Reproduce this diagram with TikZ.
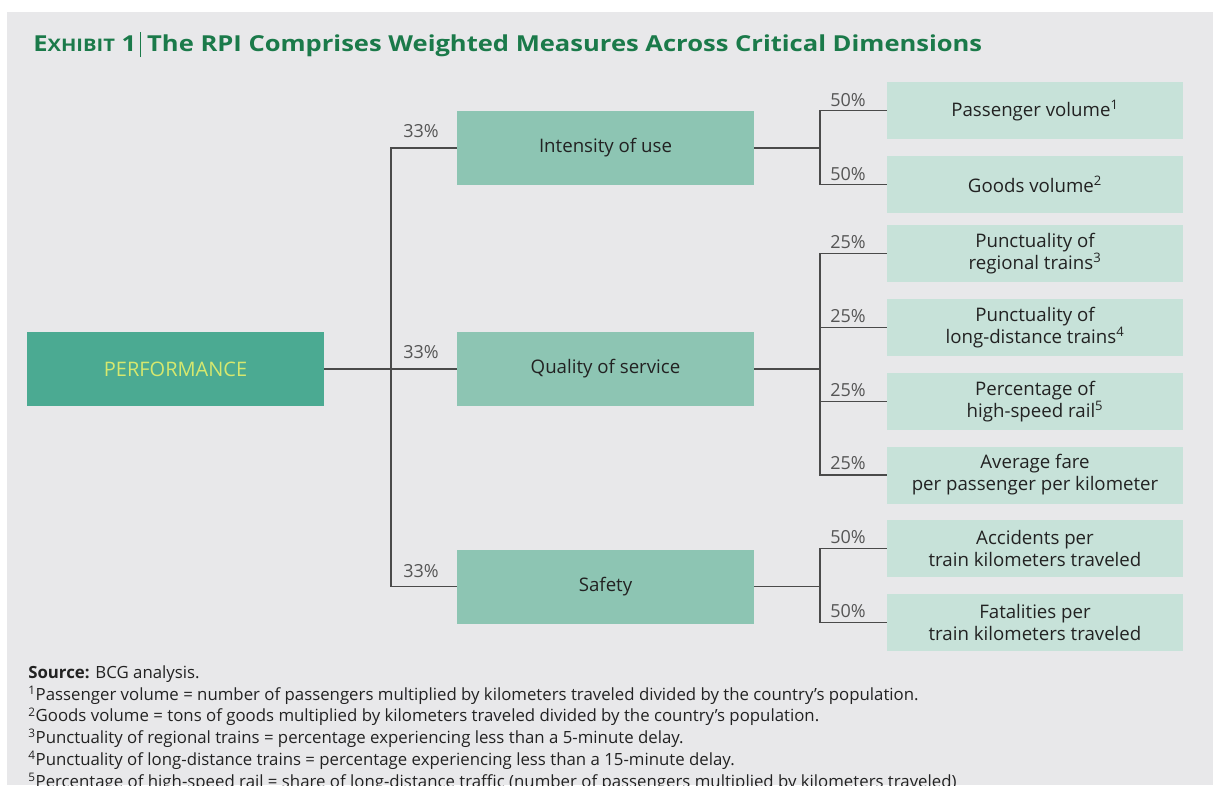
\documentclass[tikz,border=0pt]{standalone}
\usepackage{fontspec}
\setmainfont{Open Sans}
\newfontfamily\condfont[FakeStretch=0.80]{Open Sans}
\definecolor{bgc}{HTML}{E8E8EA}
\definecolor{perfc}{HTML}{4BAA92}
\definecolor{perftxt}{HTML}{D6E86E}
\definecolor{midc}{HTML}{8DC5B3}
\definecolor{leafc}{HTML}{C7E2D9}
\definecolor{txtc}{HTML}{222222}
\definecolor{linec}{HTML}{4A4A4A}
\definecolor{pctc}{HTML}{555555}
\definecolor{titlec}{HTML}{1B7A4A}
\newcommand\boxfont{\fontsize{14}{16.5}\selectfont}
\newcommand\perffont{\fontsize{15}{17}\selectfont}
\newcommand\pctfont{\fontsize{13.5}{16}\selectfont}
\newcommand\notefont{\fontsize{12.6}{16.3}\selectfont}
\begin{document}
\begin{tikzpicture}[x=0.75pt,y=-0.75pt,
  perfbox/.style={fill=perfc, minimum width=222.75pt, minimum height=55.5pt, inner sep=0pt, font=\perffont, text=perftxt},
  midbox/.style={fill=midc, minimum width=222.75pt, minimum height=55.5pt, inner sep=0pt, font=\boxfont, text=txtc},
  leafbox/.style={fill=leafc, minimum width=222pt, minimum height=42.75pt, inner sep=0pt, align=center, font=\boxfont, text=txtc},
  conn/.style={draw=linec, line width=1.1pt},
  pct/.style={anchor=base west, inner sep=0pt, font=\pctfont, text=pctc}]
\useasboundingbox (0,0) rectangle (1213,785);
\fill[white] (0,0) rectangle (1213,785);
\fill[bgc] (7,12) rectangle (1213,785);
% title
\node[anchor=base west, inner sep=0pt, text=titlec] (title) at (33,51)
  {\resizebox{711.75pt}{\height}{\condfont\bfseries\fontsize{16.5}{18}\selectfont E{\fontsize{13}{15}\selectfont XHIBIT}\ 1\hspace{2pt}\rule[-4.5pt]{0.7pt}{19pt}\hspace{3pt}The RPI Comprises Weighted Measures Across Critical Dimensions}};
% boxes
\node[perfbox] (perf) at (175.5,369) {PERFORMANCE};
\node[midbox] (int) at (605.5,148) {Intensity of use};
\node[midbox] (qual) at (605.5,369) {Quality of service};
\node[midbox] (saf) at (605.5,586.5) {Safety};
\node[leafbox] (pv) at (1035,110.5) {Passenger volume\textsuperscript{1}};
\node[leafbox] (gv) at (1035,184.5) {Goods volume\textsuperscript{2}};
\node[leafbox] (pr) at (1035,253.5) {Punctuality of\\regional trains\textsuperscript{3}};
\node[leafbox] (pl) at (1035,327.5) {Punctuality of\\long-distance trains\textsuperscript{4}};
\node[leafbox] (hs) at (1035,401.5) {Percentage of\\high-speed rail\textsuperscript{5}};
\node[leafbox] (af) at (1035,475) {Average fare\\per passenger per kilometer};
\node[leafbox] (acc) at (1035,548.5) {Accidents per\\train kilometers traveled};
\node[leafbox] (fat) at (1035,622.5) {Fatalities per\\train kilometers traveled};
% junctions
\coordinate (j1) at (391,369);
\coordinate (j2) at (820,148);
\coordinate (j3) at (820,369);
\coordinate (j4) at (820,586.5);
% connectors
\draw[conn] (perf.east) -- (qual.west);
\draw[conn] (int.west) -| (j1) |- (saf.west);
\draw[conn] (int.east) -- (j2);
\draw[conn] (pv.west) -| (j2) |- (gv.west);
\draw[conn] (qual.east) -- (j3);
\draw[conn] (pr.west) -| (j3) |- (af.west);
\draw[conn] (pl.west) -- (pl.west -| j3);
\draw[conn] (hs.west) -- (hs.west -| j3);
\draw[conn] (saf.east) -- (j4);
\draw[conn] (acc.west) -| (j4) |- (fat.west);
% percentages
\node[pct] (p1) at (403,137) {33\%};
\node[pct] (p2) at (403,358) {33\%};
\node[pct] (p3) at (403,577) {33\%};
\node[pct] (q1) at (830,106) {50\%};
\node[pct] (q2) at (830,180) {50\%};
\node[pct] (q3) at (830,248) {25\%};
\node[pct] (q4) at (830,322) {25\%};
\node[pct] (q5) at (830,396) {25\%};
\node[pct] (q6) at (830,469) {25\%};
\node[pct] (q7) at (830,543) {50\%};
\node[pct] (q8) at (830,617) {50\%};
% notes (anchored at the baseline of the last, cut-off line)
\node[anchor=base west, inner sep=0pt, align=left, font=\notefont, text=txtc] (notes) at (28,787)
  {\textbf{Source:} BCG analysis.\\
   \textsuperscript{1}Passenger volume = number of passengers multiplied by kilometers traveled divided by the country’s population.\\
   \textsuperscript{2}Goods volume = tons of goods multiplied by kilometers traveled divided by the country’s population.\\
   \textsuperscript{3}Punctuality of regional trains = percentage experiencing less than a 5-minute delay.\\
   \textsuperscript{4}Punctuality of long-distance trains = percentage experiencing less than a 15-minute delay.\\
   \textsuperscript{5}Percentage of high-speed rail = share of long-distance traffic (number of passengers multiplied by kilometers traveled)};
\end{tikzpicture}
\end{document}
